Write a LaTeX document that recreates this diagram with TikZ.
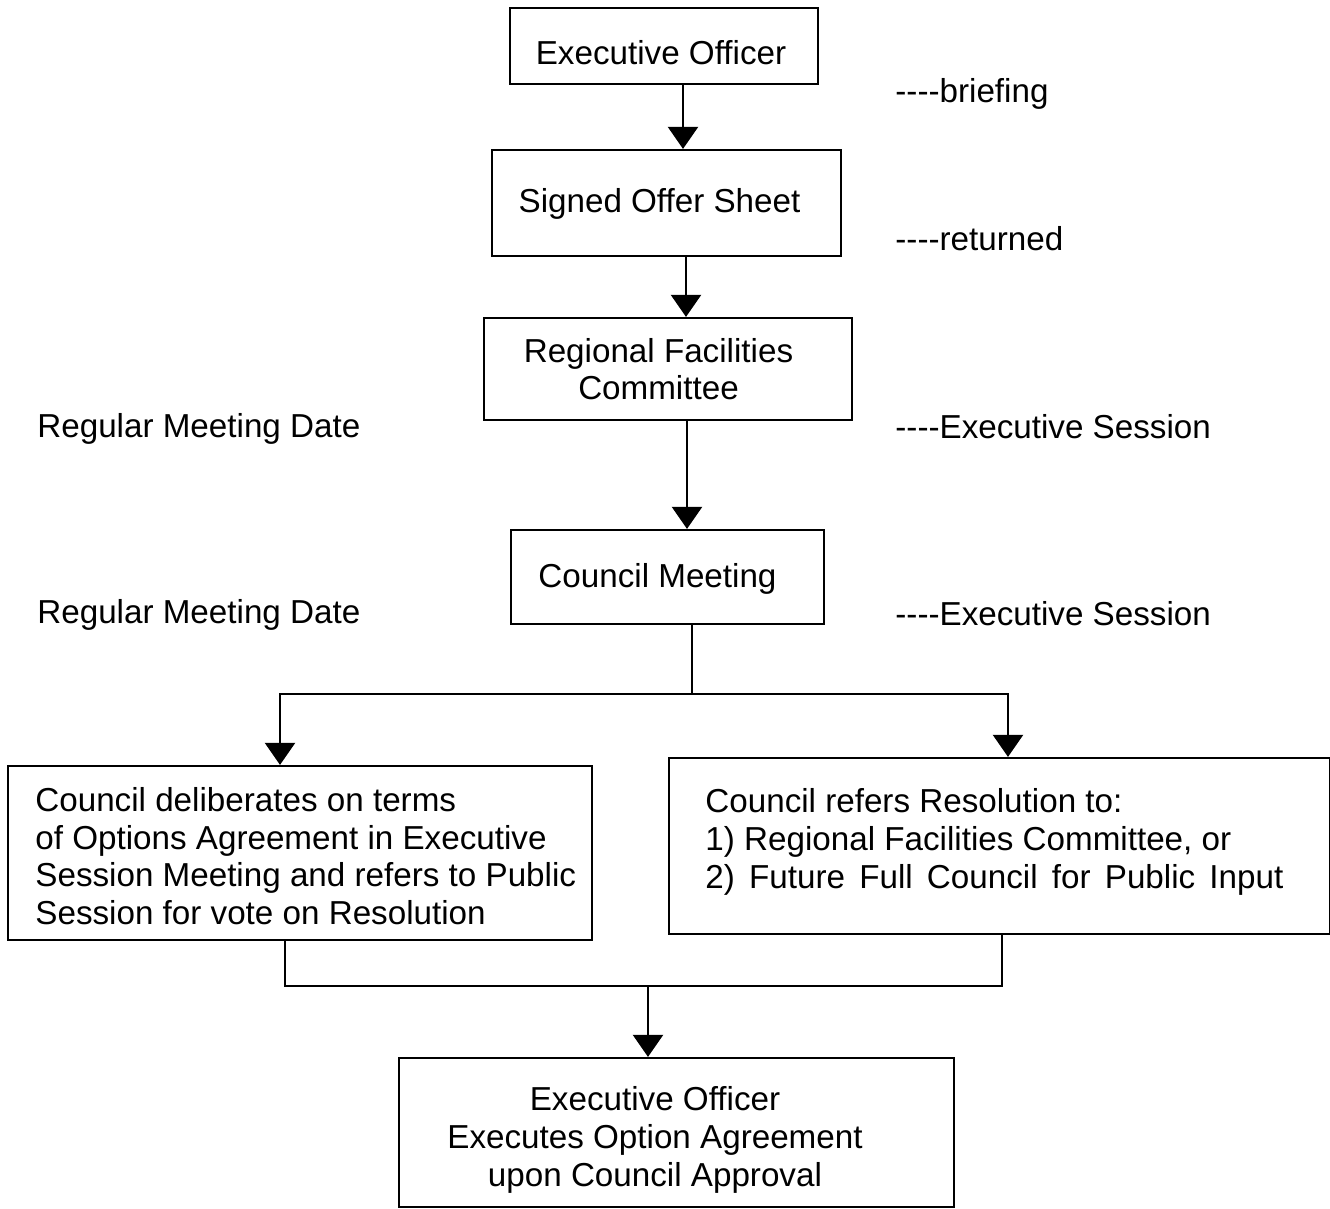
\documentclass[tikz,border=0pt]{standalone}
\usepackage{fontspec}
\setmainfont{Liberation Sans}
\usetikzlibrary{arrows.meta}
\tikzset{
  box/.style={draw, line width=1.1pt, inner sep=0pt},
  txt/.style={inner sep=0pt, font=\fontsize{16.6}{18.8}\selectfont},
  lbl/.style={anchor=west, inner sep=0pt, font=\fontsize{16.6}{18.8}\selectfont},
  conn/.style={line width=1.1pt},
  arr/.style={line width=1.1pt, -{Triangle[width=15pt,length=11pt]}}
}
\begin{document}
\begin{tikzpicture}[x=0.5pt,y=-0.5pt]
\useasboundingbox (0,0) rectangle (1330,1209);
% boxes
\node[box, minimum width=154pt, minimum height=38pt] (eo) at (664,46) {};
\node[box, minimum width=174.5pt, minimum height=53pt] (sos) at (666.5,203) {};
\node[box, minimum width=184pt, minimum height=51pt] (rfc) at (668,369) {};
\node[box, minimum width=156.5pt, minimum height=47pt] (cm) at (667.5,577) {};
\node[box, minimum width=292pt, minimum height=87pt] (lb) at (300,853) {};
\node[box, minimum width=330.5pt, minimum height=88pt] (rb) at (999.5,846) {};
\node[box, minimum width=277.5pt, minimum height=74.5pt] (fin) at (676.5,1132.5) {};
% box texts
\node[txt] (eot) at (661,53) {Executive Officer};
\node[txt] (sost) at (659.5,204) {Signed Offer Sheet};
\node[txt, align=center] (rfct) at (658.5,369) {Regional Facilities\\Committee};
\node[txt] (cmt) at (657.5,579) {Council Meeting};
\node[txt, align=left, anchor=west] (lbt) at (35,856)
  {Council deliberates on terms\\of Options Agreement in Executive\\Session Meeting and refers to Public\\Session for vote on Resolution};
\node[txt, align=left, anchor=west] (rbt) at (705,842)
  {Council refers Resolution to:\\1) Regional Facilities Committee, or\\\makebox[289pt][s]{2) Future Full Council for Public Input}};
\node[txt, align=center] (fint) at (655,1140)
  {Executive Officer\\Executes Option Agreement\\upon Council Approval};
% side labels
\node[lbl] (l1) at (895,94) {-{}-{}-{}-briefing};
\node[lbl] (l2) at (895,239) {-{}-{}-{}-returned};
\node[lbl] (l3) at (895,427) {-{}-{}-{}-Executive Session};
\node[lbl] (l4) at (895,614) {-{}-{}-{}-Executive Session};
\node[lbl] (r1) at (37,429) {Regular Meeting Date};
\node[lbl] (r2) at (37,615) {Regular Meeting Date};
% connectors
\draw[arr] (eo.south -| 683,0) -- (sos.north -| 683,0);
\draw[arr] (sos.south -| 686,0) -- (rfc.north -| 686,0);
\draw[arr] (rfc.south -| 687,0) -- (cm.north -| 687,0);
\coordinate (split) at (692,694);
\draw[conn] (cm.south -| split) -- (split);
\draw[arr] (split) -| (lb.north -| 280,0);
\draw[arr] (split) -| (rb.north -| 1008,0);
\coordinate (join) at (648,986);
\draw[conn] (lb.south -| 285,0) |- (join);
\draw[conn] (rb.south -| 1002,0) |- (join);
\draw[arr] (join) -- (fin.north -| join);
\end{tikzpicture}
\end{document}
